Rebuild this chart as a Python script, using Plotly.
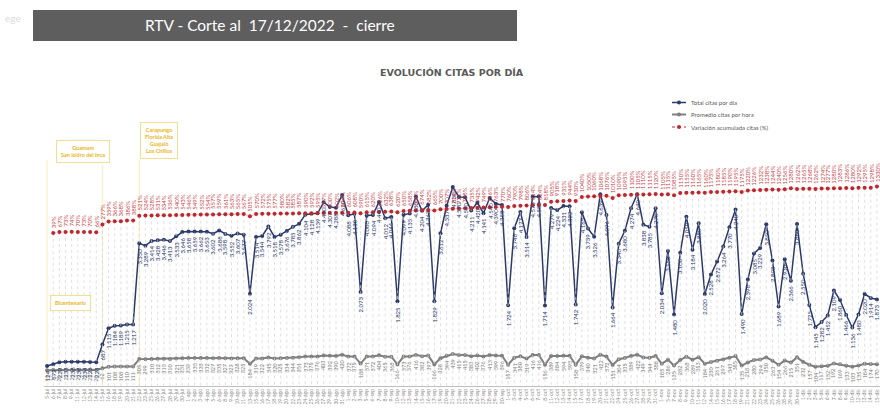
import plotly.graph_objects as go

fechas = [
    "5-jul", "6-jul", "7-jul", "8-jul", "9-jul", "11-jul", "12-jul", "13-jul", "14-jul", "15-jul",
    "16-jul", "18-jul", "19-jul", "20-jul", "21-jul", "22-jul", "23-jul", "25-jul", "26-jul", "27-jul",
    "28-jul", "29-jul", "30-jul", "1-ago", "2-ago", "3-ago", "4-ago", "5-ago", "6-ago", "8-ago",
    "9-ago", "10-ago", "11-ago", "13-ago", "15-ago", "16-ago", "17-ago", "18-ago", "19-ago", "20-ago",
    "22-ago", "23-ago", "24-ago", "25-ago", "26-ago", "27-ago", "29-ago", "30-ago", "31-ago", "1-sep",
    "2-sep", "3-sep", "5-sep", "6-sep", "7-sep", "8-sep", "9-sep", "10-sep", "12-sep", "13-sep",
    "14-sep", "15-sep", "16-sep", "17-sep", "19-sep", "20-sep", "21-sep", "22-sep", "23-sep", "24-sep",
    "26-sep", "27-sep", "28-sep", "29-sep", "30-sep", "1-oct", "3-oct", "4-oct", "5-oct", "6-oct",
    "7-oct", "8-oct", "11-oct", "12-oct", "13-oct", "14-oct", "15-oct", "17-oct", "18-oct", "19-oct",
    "20-oct", "21-oct", "22-oct", "24-oct", "25-oct", "26-oct", "27-oct", "28-oct", "29-oct", "31-oct",
    "1-nov", "5-nov", "7-nov", "8-nov", "9-nov", "10-nov", "11-nov", "12-nov", "14-nov", "15-nov",
    "16-nov", "17-nov", "18-nov", "19-nov", "21-nov", "22-nov", "23-nov", "24-nov", "25-nov", "26-nov",
    "28-nov", "29-nov", "30-nov", "1-dic", "2-dic", "3-dic", "5-dic", "6-dic", "7-dic", "8-dic",
    "9-dic", "10-dic", "12-dic", "13-dic", "14-dic", "15-dic",
]

total_citas = [
    124, 172, 220, 235, 238, 238, 234, 226, 225, 687,
    1115, 1184, 1189, 1215, 1217, 3350, 3289, 3414, 3428, 3446,
    3413, 3533, 3646, 3658, 3659, 3662, 3653, 3602, 3688, 3598,
    3552, 3607, 3577, 2024, 3514, 3544, 3792, 3518, 3578, 3676,
    3785, 3862, 4104, 4128, 4139, 4430, 4307, 4288, 4620, 4088,
    4130, 2073, 4080, 4094, 4440, 4012, 4044, 1825, 4099, 4135,
    4580, 4204, 4363, 1829, 3612, 4337, 4830, 4570, 4560, 4211,
    4420, 4141, 4540, 4390, 4358, 1724, 3748, 4177, 3514, 4573,
    4580, 1714, 4279, 4224, 4331, 4322, 1742, 4165, 3739, 3526,
    4639, 4096, 1664, 3340, 3680, 4274, 4640, 3838, 3785, 4270,
    2034, 3150, 1480, 3100, 4050, 3184, 3880, 2020, 2528, 2872,
    3264, 3770, 4240, 1490, 2398, 3085, 3229, 3850, 2898, 1689,
    2930, 2366, 3860, 2550, 1725, 1145, 1282, 1452, 2109, 1860,
    1466, 1136, 1480, 2020, 1914, 1873,
]

promedio_hora = [
    11, 16, 20, 21, 21, 21, 21, 21, 20, 62,
    101, 108, 108, 110, 111, 305, 299, 310, 312, 313,
    310, 321, 331, 333, 333, 333, 332, 327, 335, 327,
    323, 328, 325, 184, 319, 322, 345, 320, 325, 334,
    344, 351, 373, 375, 376, 403, 392, 390, 420, 372,
    375, 188, 371, 372, 404, 365, 368, 166, 373, 376,
    416, 382, 397, 166, 328, 394, 439, 415, 415, 383,
    402, 376, 413, 399, 396, 157, 341, 380, 319, 416,
    416, 156, 389, 384, 394, 393, 158, 379, 340, 321,
    422, 372, 151, 304, 335, 389, 422, 349, 344, 388,
    185, 286, 135, 282, 368, 289, 353, 184, 230, 261,
    297, 343, 385, 135, 218, 280, 294, 350, 263, 154,
    266, 215, 351, 232, 157, 104, 117, 132, 192, 169,
    133, 103, 135, 184, 174, 170,
]

variacion_pct = [
    None, 39, 67, 73, 74, 70, 73, 70, 66, 277,
    359, 366, 368, 386, 388, 521, 524, 528, 531, 534,
    536, 540, 543, 546, 549, 552, 554, 557, 559, 561,
    563, 565, 567, 505, 570, 572, 575, 577, 580, 582,
    585, 587, 590, 592, 595, 597, 600, 602, 604, 606,
    608, 590, 615, 620, 626, 632, 638, 620, 650, 658,
    666, 674, 682, 665, 700, 707, 714, 721, 728, 735,
    742, 749, 756, 763, 770, 760, 790, 798, 806, 814,
    824, 818, 905, 918, 931, 944, 930, 1040, 1050, 1060,
    1068, 1076, 1010, 1090, 1095, 1100, 1105, 1110, 1115, 1120,
    1105, 1115, 1085, 1150, 1155, 1160, 1165, 1160, 1175, 1180,
    1185, 1190, 1195, 1175, 1220, 1226, 1232, 1238, 1244, 1240,
    1256, 1280, 1262, 1265, 1268, 1262, 1274, 1277, 1280, 1283,
    1286, 1280, 1292, 1295, 1298, 1330,
]

series_names = ["Total citas por día", "Promedio citas por hora", "Variación acumulada citas (%)"]

NAVY = "#2c3a6c"
GRAY = "#7f7f7f"
RED = "#c0272d"
RED_TXT = "#c8444a"
GOLD = "#e9b522"
FONT = "Lato"

W, H = 880, 411
ML, MR, MT, MB = 44, 0, 80, 25
PW, PH = W - ML - MR, H - MT - MB

Y1_RANGE = [-402, 7645]
Y2_RANGE = [-4196, 4280]


def px_x(p):
    return (p - ML) / PW


def px_y(p):
    return (H - MB - p) / PH


def miles(v):
    return f"{v:,}".replace(",", ".")


fig = go.Figure()

# drop lines (vertical dotted) from the top series to the axis
dx, dy = [], []
for f, v in zip(fechas, variacion_pct):
    if v is None:
        continue
    dx += [f, f, None]
    dy += [v, Y2_RANGE[0], None]
fig.add_trace(go.Scatter(x=dx, y=dy, yaxis="y2", mode="lines",
                         line=dict(color="#d2d2d2", width=0.7, dash="dot"),
                         showlegend=False, hoverinfo="skip"))

fig.add_trace(go.Scatter(x=fechas, y=total_citas, name=series_names[0],
                         mode="lines+markers", line=dict(color=NAVY, width=1.5),
                         marker=dict(color=NAVY, size=4), showlegend=False))
fig.add_trace(go.Scatter(x=fechas, y=promedio_hora, name=series_names[1],
                         mode="lines+markers", line=dict(color=GRAY, width=2),
                         marker=dict(color=GRAY, size=4), showlegend=False))
fig.add_trace(go.Scatter(x=fechas, y=variacion_pct, name=series_names[2],
                         yaxis="y2", mode="lines+markers",
                         line=dict(color="rgba(192,39,45,0.35)", width=1, dash="dot"),
                         marker=dict(color=RED, size=4), showlegend=False))

anns = []
for f, v in zip(fechas, total_citas):
    anns.append(dict(x=f, y=v, xref="x", yref="y", text=miles(v), textangle=-90,
                     showarrow=False, yanchor="top", yshift=-3,
                     font=dict(size=6, color=NAVY, family=FONT)))
for f, v in zip(fechas, promedio_hora):
    anns.append(dict(x=f, y=v, xref="x", yref="y", text=miles(v), textangle=-90,
                     showarrow=False, yanchor="top", yshift=-3,
                     font=dict(size=5.5, color=GRAY, family=FONT)))
for f, v in zip(fechas, variacion_pct):
    if v is None:
        continue
    anns.append(dict(x=f, y=v, xref="x", yref="y2", text=f"{v}%", textangle=-90,
                     showarrow=False, yanchor="bottom", yshift=3,
                     font=dict(size=6, color=RED_TXT, family=FONT)))

# banner and chart title
shapes = [dict(type="rect", xref="paper", yref="paper", x0=px_x(33), x1=px_x(517),
               y0=px_y(41), y1=px_y(10), fillcolor="#5e5e5e", line=dict(width=0), layer="below")]
anns.append(dict(x=px_x(270), y=px_y(25.5), xref="paper", yref="paper", showarrow=False,
                 xanchor="center", yanchor="middle",
                 text="RTV - Corte al  17/12/2022  -  cierre",
                 font=dict(size=15.5, color="white", family=FONT)))
anns.append(dict(x=px_x(452), y=px_y(72), xref="paper", yref="paper", showarrow=False,
                 xanchor="center", yanchor="middle",
                 text="<b>EVOLUCIÓN CITAS POR DÍA</b>",
                 font=dict(size=9.5, color="#595959", family="DejaVu Sans")))
anns.append(dict(x=px_x(13), y=px_y(18), xref="paper", yref="paper", showarrow=False,
                 xanchor="center", yanchor="middle", text="ege",
                 font=dict(size=10, color="#dcdcdc", family=FONT)))

# callouts
callouts = [
    ("Guamaní<br>San Isidro del Inca", 82.5, 151, 9, 165),
    ("Carapungo<br>Florida Alta<br>Guajaló<br>Los Chillos", 158.7, 140.3, 15, 160),
    ("Bicentenario", 70, 303.3, 0, 160),
]
for txt, cx, cy, idx, ybot in callouts:
    anns.append(dict(x=px_x(cx), y=px_y(cy), xref="paper", yref="paper",
                     xanchor="center", yanchor="middle",
                     showarrow=False, text=f"<b>{txt}</b>", bgcolor="white",
                     bordercolor="#f3df8e", borderwidth=1, borderpad=4,
                     font=dict(size=5.5, color=GOLD, family=FONT)))
    shapes.append(dict(type="line", xref="x", yref="paper", x0=fechas[idx], x1=fechas[idx],
                       y0=0, y1=px_y(ybot), line=dict(color="#f8edbd", width=1),
                       layer="below"))

# manual legend
legend_rows = [(series_names[0], NAVY, "solid", 1.5, 102.5),
               (series_names[1], GRAY, "solid", 2, 114.5),
               (series_names[2], RED, "dot", 1, 127)]
for name, col, dash, lw, ry in legend_rows:
    shapes.append(dict(type="line", xref="paper", yref="paper", x0=px_x(672), x1=px_x(686),
                       y0=px_y(ry), y1=px_y(ry), line=dict(color=col, width=lw, dash=dash)))
    shapes.append(dict(type="circle", xref="paper", yref="paper", x0=px_x(677), x1=px_x(681),
                       y0=px_y(ry + 2), y1=px_y(ry - 2), fillcolor=col, line=dict(width=0)))
    anns.append(dict(x=px_x(689), y=px_y(ry), xref="paper", yref="paper", showarrow=False,
                     xanchor="left", yanchor="middle", text=name,
                     font=dict(size=6, color="#595959", family=FONT)))

fig.update_layout(
    width=W, height=H,
    margin=dict(l=ML, r=MR, t=MT, b=MB),
    paper_bgcolor="white", plot_bgcolor="white",
    font=dict(family=FONT, color="#595959"),
    xaxis=dict(type="category", categoryorder="array", categoryarray=fechas,
               range=[-0.5, len(fechas) - 0.5], tickangle=-90,
               tickfont=dict(size=5, color="#8c8c8c"), showgrid=False, showline=True,
               linecolor="#bfbfbf", linewidth=1, ticks="", automargin=False, zeroline=False),
    yaxis=dict(range=Y1_RANGE, visible=False, showgrid=False, zeroline=False),
    yaxis2=dict(range=Y2_RANGE, overlaying="y", side="right", visible=False,
                showgrid=False, zeroline=False),
    annotations=anns,
    shapes=shapes,
    showlegend=False,
)

fig.write_html("out.html", config={"displayModeBar": False},
               post_script="document.body.style.margin='0px';document.body.style.overflow='hidden';")
